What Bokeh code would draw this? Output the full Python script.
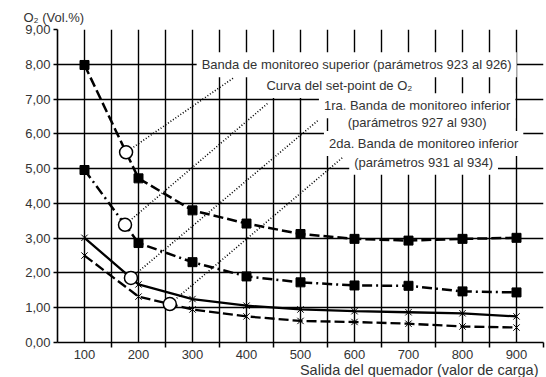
from bokeh.plotting import figure
from bokeh.models import FixedTicker, Label, Range1d, Title
from bokeh.embed import file_html
from bokeh.resources import INLINE
import numpy as np

# ---- data ----
load = [100, 200, 300, 400, 500, 600, 700, 800, 900]
upper_band = [7.98, 4.72, 3.80, 3.42, 3.12, 2.98, 2.93, 2.98, 3.01]
setpoint_curve = [4.96, 2.86, 2.31, 1.90, 1.73, 1.64, 1.63, 1.47, 1.44]
lower_band_1 = [3.01, 1.67, 1.25, 1.06, 0.95, 0.90, 0.87, 0.84, 0.75]
lower_band_2 = [2.50, 1.32, 0.95, 0.75, 0.62, 0.59, 0.54, 0.46, 0.43]

y_ticks = [0, 1, 2, 3, 4, 5, 6, 7, 8, 9]
y_tick_labels = ["0,00", "1,00", "2,00", "3,00", "4,00", "5,00", "6,00", "7,00", "8,00", "9,00"]
x_minor = [150, 250, 350, 450, 550, 650, 750, 850, 950]

label_upper = "Banda de monitoreo superior (parámetros 923 al 926)"
label_setpoint = "Curva del set-point de O₂"
label_low1 = ["1ra. Banda de monitoreo inferior", "(parámetros 927 al 930)"]
label_low2 = ["2da. Banda de monitoreo inferior", "(parámetros 931 al 934)"]
y_title = "O₂ (Vol.%)"
x_title = "Salida del quemador (valor de carga)"

# callout circles sit on each curve at these loads
callout_x = [177, 175, 186, 258]
callout_series = [upper_band, setpoint_curve, lower_band_1, lower_band_2]
callout_y = [float(np.interp(cx, load, s)) for cx, s in zip(callout_x, callout_series)]
# leader line end points (toward the labels)
leader_end_x = [377, 441, 532, 578]
leader_end_y = [7.62, 6.90, 6.38, 5.32]

FONT = "Liberation Sans"
TXT = "#333333"

p = figure(width=546, height=377, x_range=Range1d(50, 950), y_range=Range1d(0, 9),
           output_backend="svg", toolbar_location=None,
           title=y_title,
           min_border_left=57, min_border_right=3, min_border_top=29, min_border_bottom=35)
p.outline_line_color = None
p.background_fill_color = "white"

p.title.align = "left"
p.title.offset = -34
p.title.standoff = 9
p.title.text_font = FONT
p.title.text_font_size = "13px"
p.title.text_font_style = "normal"
p.title.text_color = TXT

# x axis title as a right-aligned title below the axis
p.add_layout(Title(text=x_title, align="right", offset=5, standoff=-4,
                   text_font=FONT, text_font_size="14.5px", text_font_style="normal",
                   text_color=TXT), "below")

# grid
p.xgrid.ticker = FixedTicker(ticks=list(range(50, 951, 50)))
p.ygrid.ticker = FixedTicker(ticks=y_ticks)
for g in (p.xgrid, p.ygrid):
    g.grid_line_color = "black"
    g.grid_line_width = 1.4

# x axis
xa = p.xaxis[0]
xa.ticker = FixedTicker(ticks=load, minor_ticks=x_minor)
xa.major_tick_out = 0
xa.major_tick_in = 0
xa.minor_tick_out = 5
xa.minor_tick_in = 0
xa.minor_tick_line_color = "black"
xa.minor_tick_line_width = 1.5
xa.axis_line_color = "black"
xa.axis_line_width = 1.6
xa.major_label_standoff = 2
xa.major_label_text_font = FONT
xa.major_label_text_font_size = "13px"
xa.major_label_text_color = TXT

# y axis
ya = p.yaxis[0]
ya.ticker = FixedTicker(ticks=y_ticks)
ya.major_label_overrides = {t: l for t, l in zip(y_ticks, y_tick_labels)}
ya.major_tick_out = 4
ya.major_tick_in = 0
ya.major_tick_line_color = "black"
ya.major_tick_line_width = 1.5
ya.minor_tick_out = 0
ya.minor_tick_in = 0
ya.axis_line_color = "black"
ya.axis_line_width = 1.6
ya.major_label_standoff = 3
ya.major_label_text_font = FONT
ya.major_label_text_font_size = "13px"
ya.major_label_text_color = TXT

# leader lines (dotted)
for cx, cy, ex, ey in zip(callout_x, callout_y, leader_end_x, leader_end_y):
    p.line([cx, ex], [cy, ey], line_color="black", line_width=1.6, line_dash="1 2")

# series
p.line(load, upper_band, line_color="black", line_width=2.5, line_dash="10 4")
p.scatter(load, upper_band, marker="square", size=9, fill_color="black", line_color="black")

p.line(load, setpoint_curve, line_color="black", line_width=2.5, line_dash="10 4 2 4")
p.scatter(load, setpoint_curve, marker="square", size=9, fill_color="black", line_color="black")

p.line(load, lower_band_1, line_color="black", line_width=2.3)
p.scatter(load, lower_band_1, marker="x", size=9, line_color="black", line_width=1)

p.line(load, lower_band_2, line_color="black", line_width=2.3, line_dash="10 4")
p.scatter(load, lower_band_2, marker="x", size=9, line_color="black", line_width=1)

# callout circles
p.scatter(callout_x, callout_y, marker="circle", size=13, fill_color="white",
          line_color="black", line_width=1.5)

def lab(x, y, text, align="center", **kw):
    p.add_layout(Label(x=x, y=y, text=text, text_font=FONT, text_font_size="13px",
                       text_color=TXT, text_align=align,
                       text_baseline="middle", **kw))

# callout texts with white backgrounds
bg = dict(background_fill_color="white", padding=5)
lab(604, 7.99, label_upper, **bg)
lab(572, 7.39, label_setpoint, **bg)
lab(716, 6.81, label_low1[0], **bg)
lab(716, 6.33, label_low1[1], **bg)
lab(728, 5.72, label_low2[0], **bg)
lab(728, 5.18, label_low2[1], **bg)

open("out.html", "w").write(file_html(p, INLINE))
